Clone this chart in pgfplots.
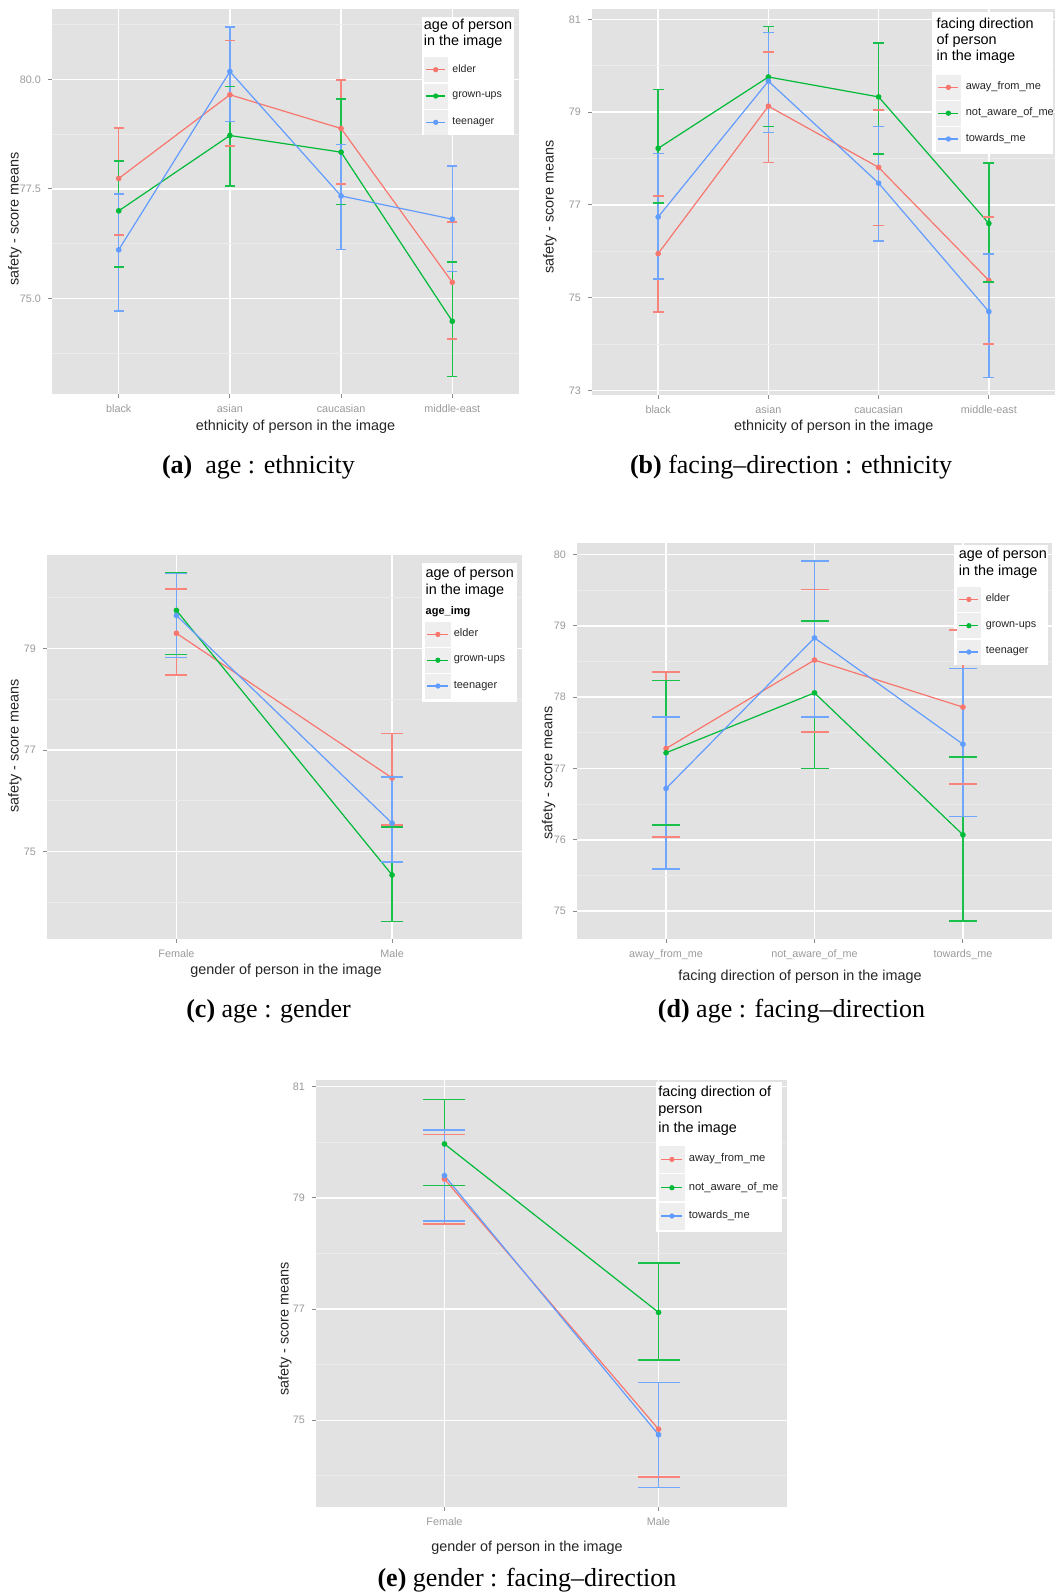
\documentclass[border=0pt]{standalone}
\usepackage{pgfplots}
\pgfplotsset{compat=1.18}
\usepackage{pgfplotstable}
\usepackage{fontspec}
\setmainfont{Liberation Sans}
\newfontfamily\capfont{Liberation Serif}[Ligatures=TeX]

\definecolor{ggbg}{HTML}{E2E2E2}
\definecolor{ggminor}{HTML}{ECECEC}
\definecolor{ggkey}{HTML}{EEEEEE}
\definecolor{ggred}{HTML}{F8766D}
\definecolor{gggreen}{HTML}{00BA38}
\definecolor{ggblue}{HTML}{619CFF}
\definecolor{ticktext}{HTML}{9A9A9A}
\definecolor{tickmark}{HTML}{8A8A8A}
\definecolor{axtitle}{HTML}{262626}

% ---------- data (x, mean, upper, lower) ----------
\pgfplotstableread{
x y hi lo
1 77.74 78.89 76.45
2 79.65 80.89 78.48
3 78.88 79.99 77.61
4 75.37 76.74 74.07
}\aElder
\pgfplotstableread{
x y hi lo
1 77.00 78.14 75.72
2 78.72 79.84 77.57
3 78.34 79.55 77.15
4 74.48 75.83 73.22
}\aGrown
\pgfplotstableread{
x y hi lo
1 76.11 77.39 74.71
2 80.18 81.20 79.04
3 77.34 78.52 76.12
4 76.81 78.02 75.62
}\aTeen
\pgfplotstableread{
x y hi lo
1 75.95 77.19 74.69
2 79.13 80.30 77.92
3 77.81 79.05 76.56
4 75.37 76.74 74.00
}\bAway
\pgfplotstableread{
x y hi lo
1 78.22 79.49 77.04
2 79.76 80.85 78.69
3 79.33 80.49 78.10
4 76.60 77.90 75.34
}\bNot
\pgfplotstableread{
x y hi lo
1 76.74 78.11 75.40
2 79.67 80.72 78.56
3 77.47 78.69 76.22
4 74.70 75.94 73.28
}\bTow
\pgfplotstableread{
x y hi lo
1 79.30 80.17 78.48
2 76.45 77.33 75.52
}\cElder
\pgfplotstableread{
x y hi lo
1 79.75 80.50 78.88
2 74.54 75.49 73.62
}\cGrown
\pgfplotstableread{
x y hi lo
1 79.65 80.48 78.82
2 75.56 76.47 74.80
}\cTeen
\pgfplotstableread{
x y hi lo
1 77.28 78.35 76.04
2 78.52 79.51 77.51
3 77.86 78.94 76.78
}\dElder
\pgfplotstableread{
x y hi lo
1 77.22 78.23 76.21
2 78.06 79.07 77.00
3 76.07 77.16 74.86
}\dGrown
\pgfplotstableread{
x y hi lo
1 76.72 77.72 75.59
2 78.83 79.91 77.72
3 77.34 78.40 76.33
}\dTeen
\pgfplotstableread{
x y hi lo
1 79.34 80.14 78.53
2 74.84 75.68 73.98
}\eAway
\pgfplotstableread{
x y hi lo
1 79.97 80.77 79.22
2 76.94 77.83 76.08
}\eNot
\pgfplotstableread{
x y hi lo
1 79.40 80.22 78.58
2 74.74 75.68 73.79
}\eTow

\pgfplotsset{
  gg/.style={
    scale only axis,
    axis background/.style={fill=ggbg},
    axis line style={draw=none},
    tick align=outside,
    xtick pos=left, ytick pos=left,
    major tick length=2pt,
    minor tick length=0pt,
    every tick/.style={tickmark, line width=0.5pt},
    xmajorgrids, ymajorgrids, yminorgrids,
    major grid style={white, line width=0.75pt},
    minor grid style={ggminor, line width=0.4pt},
    tick label style={font=\fontsize{5.4}{6}\selectfont, text=ticktext},
    xmin=0.4,
    legend cell align=left,
  },
  ggser/.style={
    color=#1, line width=0.6pt, mark=*, mark size=1.1pt,
    mark options={solid, fill=#1, draw=#1},
    error bars/y dir=both, error bars/y explicit,
    error bars/error mark=none,
    error bars/error bar style={line width=0.7pt, color=#1!90!white},
  },
  ggcap/.style 2 args={
    only marks, mark=-, mark size=#2,
    mark options={solid, line width=0.75pt, color=#1!90!white},
  },
}
\pgfkeys{/pgfplots/table/ggtab/.style={x=x, y=y,
  y error plus expr=\thisrow{hi}-\thisrow{y},
  y error minus expr=\thisrow{y}-\thisrow{lo}}}
% one group: error bars, caps, line and points
\newcommand{\ggseries}[3]{%
  \addplot[forget plot, ggcap={#2}{#3}] table[x=x, y=hi] {#1};
  \addplot[forget plot, ggcap={#2}{#3}] table[x=x, y=lo] {#1};
  \addplot[forget plot, ggser={#2}] table[ggtab] {#1};
}
\newcommand{\legtitle}{\fontsize{7.2}{8}\selectfont}
\newcommand{\axt}{\fontsize{7.2}{8}\selectfont\color{axtitle}}
\newcommand{\capf}{\capfont\fontsize{13}{15}\selectfont}

\begin{document}
\begin{tikzpicture}
\path[use as bounding box] (0pt,0pt) rectangle (529.5pt,-797.5pt);

% ================= (a) =================
\begin{axis}[gg, at={(26pt,-197pt)}, anchor=south west,
  width=233.5pt, height=192.35pt,
  xmax=4.6, ymin=72.82, ymax=81.6,
  xtick={1,2,3,4}, xticklabels={black,asian,caucasian,middle-east},
  ytick={75,77.5,80}, yticklabels={75.0,77.5,80.0},
  minor ytick={73.75,76.25,78.75,81.25},
  legend style={at={(axis description cs:0.7957,0.8752)}, anchor=north west,
    draw=none, fill=none, inner sep=0pt, outer sep=0pt, row sep=0.75pt,
    font=\fontsize{5.3}{6}\selectfont, nodes={inner sep=0pt, text=axtitle}},
  legend image code/.code={
    \fill[ggkey] (0pt,-6pt) rectangle (11.7pt,6pt);
    \draw[#1, line width=0.6pt] (1pt,0pt) -- (10.7pt,0pt);
    \fill[#1] (5.85pt,0pt) circle (1.1pt);
    \path (14pt,0pt);
  },
]
\ggseries{\aElder}{ggred}{2.5pt}
\ggseries{\aGrown}{gggreen}{2.5pt}
\ggseries{\aTeen}{ggblue}{2.5pt}
\fill[white] (axis description cs:0.7914,0.9808) rectangle (axis description cs:0.9893,0.6733);
\node[anchor=west, inner sep=0pt, font=\legtitle] at (axis description cs:0.7957,0.9574) {age of person};
\node[anchor=west, inner sep=0pt, font=\legtitle] at (axis description cs:0.7957,0.9158) {in the image};
\addlegendimage{ggred}\addlegendentry{elder}
\addlegendimage{gggreen}\addlegendentry{grown-ups}
\addlegendimage{ggblue}\addlegendentry{teenager}
\end{axis}
\node[rotate=90, font=\axt] at (7.5pt,-109.5pt) {safety - score means};
\node[font=\axt] at (147.75pt,-213.5pt) {ethnicity of person in the image};
\node[font=\capf] at (129.2pt,-233.5pt) {\textbf{(a)}\ \ age : ethnicity};

% ================= (b) =================
\begin{axis}[gg, at={(296pt,-197.5pt)}, anchor=south west,
  width=231.5pt, height=192.85pt,
  xmax=4.6, ymin=72.9, ymax=81.22,
  xtick={1,2,3,4}, xticklabels={black,asian,caucasian,middle-east},
  ytick={73,75,77,79,81}, yticklabels={73,75,77,79,81},
  minor ytick={74,76,78,80},
  legend style={at={(axis description cs:0.743,0.8297)}, anchor=north west,
    draw=none, fill=none, inner sep=0pt, outer sep=0pt, row sep=0.5pt,
    font=\fontsize{5.5}{6}\selectfont, nodes={inner sep=0pt, text=axtitle}},
  legend image code/.code={
    \fill[ggkey] (0pt,-6pt) rectangle (12pt,6pt);
    \draw[#1, line width=0.6pt] (1pt,0pt) -- (11pt,0pt);
    \fill[#1] (6pt,0pt) circle (1.1pt);
    \path (14.5pt,0pt);
  },
]
\ggseries{\bAway}{ggred}{2.75pt}
\ggseries{\bNot}{gggreen}{2.75pt}
\ggseries{\bTow}{ggblue}{2.75pt}
\fill[white] (axis description cs:0.7343,0.993) rectangle (axis description cs:0.9957,0.6248);
\node[anchor=west, inner sep=0pt, font=\legtitle] at (axis description cs:0.7436,0.9593) {facing direction};
\node[anchor=west, inner sep=0pt, font=\legtitle] at (axis description cs:0.7436,0.9178) {of person};
\node[anchor=west, inner sep=0pt, font=\legtitle] at (axis description cs:0.7436,0.8763) {in the image};
\addlegendimage{ggred}\addlegendentry{away\_from\_me}
\addlegendimage{gggreen}\addlegendentry{not\_aware\_of\_me}
\addlegendimage{ggblue}\addlegendentry{towards\_me}
\end{axis}
\node[rotate=90, font=\axt] at (275pt,-103.5pt) {safety - score means};
\node[font=\axt] at (416.85pt,-213.5pt) {ethnicity of person in the image};
\node[font=\capf] at (395.5pt,-233.5pt) {\textbf{(b)} facing--direction : ethnicity};

% ================= (c) =================
\begin{axis}[gg, at={(23.5pt,-469.5pt)}, anchor=south west,
  width=237.25pt, height=192pt,
  xmax=2.6, ymin=73.28, ymax=80.84,
  xtick={1,2}, xticklabels={Female,Male},
  ytick={75,77,79}, yticklabels={75,77,79},
  minor ytick={74,76,78,80},
  legend style={at={(axis description cs:0.7966,0.8255)}, anchor=north west,
    draw=none, fill=none, inner sep=0pt, outer sep=0pt, row sep=0.5pt,
    font=\fontsize{5.5}{6}\selectfont, nodes={inner sep=0pt, text=axtitle}},
  legend image code/.code={
    \fill[ggkey] (0pt,-6pt) rectangle (12.5pt,6pt);
    \draw[#1, line width=0.6pt] (1pt,0pt) -- (11.5pt,0pt);
    \fill[#1] (6.25pt,0pt) circle (1.1pt);
    \path (14pt,0pt);
  },
]
\ggseries{\cElder}{ggred}{5.5pt}
\ggseries{\cGrown}{gggreen}{5.5pt}
\ggseries{\cTeen}{ggblue}{5.5pt}
\fill[white] (axis description cs:0.7903,0.9792) rectangle (axis description cs:0.9905,0.6172);
\node[anchor=west, inner sep=0pt, font=\legtitle] at (axis description cs:0.7973,0.9505) {age of person};
\node[anchor=west, inner sep=0pt, font=\legtitle] at (axis description cs:0.7973,0.9063) {in the image};
\node[anchor=west, inner sep=0pt, font=\fontsize{5.5}{6}\selectfont\bfseries] at (axis description cs:0.7973,0.8516) {age\_img};
\addlegendimage{ggred}\addlegendentry{elder}
\addlegendimage{gggreen}\addlegendentry{grown-ups}
\addlegendimage{ggblue}\addlegendentry{teenager}
\end{axis}
\node[rotate=90, font=\axt] at (7.5pt,-373pt) {safety - score means};
\node[font=\axt] at (143pt,-485.5pt) {gender of person in the image};
\node[font=\capf] at (134.3pt,-505.5pt) {\textbf{(c)} age : gender};

% ================= (d) =================
\begin{axis}[gg, at={(288.5pt,-469.5pt)}, anchor=south west,
  width=237.5pt, height=198pt,
  xmax=3.6, ymin=74.61, ymax=80.16,
  xtick={1,2,3}, xticklabels={away\_from\_me,not\_aware\_of\_me,towards\_me},
  ytick={75,76,77,78,79,80}, yticklabels={75,76,77,78,79,80},
  minor ytick={75.5,76.5,77.5,78.5,79.5},
  legend style={at={(axis description cs:0.8,0.8889)}, anchor=north west,
    draw=none, fill=none, inner sep=0pt, outer sep=0pt, row sep=0.75pt,
    font=\fontsize{5.4}{6}\selectfont, nodes={inner sep=0pt, text=axtitle}},
  legend image code/.code={
    \fill[ggkey] (0pt,-6pt) rectangle (11.5pt,6pt);
    \draw[#1, line width=0.6pt] (1pt,0pt) -- (10.5pt,0pt);
    \fill[#1] (5.75pt,0pt) circle (1.1pt);
    \path (14pt,0pt);
  },
]
\ggseries{\dElder}{ggred}{7pt}
\ggseries{\dGrown}{gggreen}{7pt}
\ggseries{\dTeen}{ggblue}{7pt}
\fill[white] (axis description cs:0.7937,0.9949) rectangle (axis description cs:0.9916,0.6919);
\node[anchor=west, inner sep=0pt, font=\legtitle] at (axis description cs:0.8032,0.9697) {age of person};
\node[anchor=west, inner sep=0pt, font=\legtitle] at (axis description cs:0.8032,0.9268) {in the image};
\addlegendimage{ggred}\addlegendentry{elder}
\addlegendimage{gggreen}\addlegendentry{grown-ups}
\addlegendimage{ggblue}\addlegendentry{teenager}
\end{axis}
\node[rotate=90, font=\axt] at (274.3pt,-386.5pt) {safety - score means};
\node[font=\axt] at (400pt,-488.5pt) {facing direction of person in the image};
\node[font=\capf] at (395.75pt,-505.5pt) {\textbf{(d)} age : facing--direction};

% ================= (e) =================
\begin{axis}[gg, at={(158pt,-753.5pt)}, anchor=south west,
  width=235.5pt, height=213.5pt,
  xmax=2.6, ymin=73.44, ymax=81.12,
  xtick={1,2}, xticklabels={Female,Male},
  ytick={75,77,79,81}, yticklabels={75,77,79,81},
  minor ytick={74,76,78,80},
  legend style={at={(axis description cs:0.7282,0.8454)}, anchor=north west,
    draw=none, fill=none, inner sep=0pt, outer sep=0pt, row sep=0.75pt,
    font=\fontsize{5.6}{6}\selectfont, nodes={inner sep=0pt, text=axtitle}},
  legend image code/.code={
    \fill[ggkey] (0pt,-6.5pt) rectangle (12.5pt,6.5pt);
    \draw[#1, line width=0.6pt] (1pt,0pt) -- (11.5pt,0pt);
    \fill[#1] (6.25pt,0pt) circle (1.1pt);
    \path (14.5pt,0pt);
  },
]
\ggseries{\eAway}{ggred}{10.5pt}
\ggseries{\eNot}{gggreen}{10.5pt}
\ggseries{\eTow}{ggblue}{10.5pt}
\fill[white] (axis description cs:0.7219,0.9953) rectangle (axis description cs:0.9894,0.644);
\node[anchor=west, inner sep=0pt, font=\legtitle] at (axis description cs:0.7261,0.9696) {facing direction of};
\node[anchor=west, inner sep=0pt, font=\legtitle] at (axis description cs:0.7261,0.9274) {person};
\node[anchor=west, inner sep=0pt, font=\legtitle] at (axis description cs:0.7261,0.8852) {in the image};
\addlegendimage{ggred}\addlegendentry{away\_from\_me}
\addlegendimage{gggreen}\addlegendentry{not\_aware\_of\_me}
\addlegendimage{ggblue}\addlegendentry{towards\_me}
\end{axis}
\node[rotate=90, font=\axt] at (142.5pt,-664.5pt) {safety - score means};
\node[font=\axt] at (263.5pt,-774pt) {gender of person in the image};
\node[font=\capf] at (263.5pt,-790pt) {\textbf{(e)} gender : facing--direction};
\end{tikzpicture}
\end{document}
